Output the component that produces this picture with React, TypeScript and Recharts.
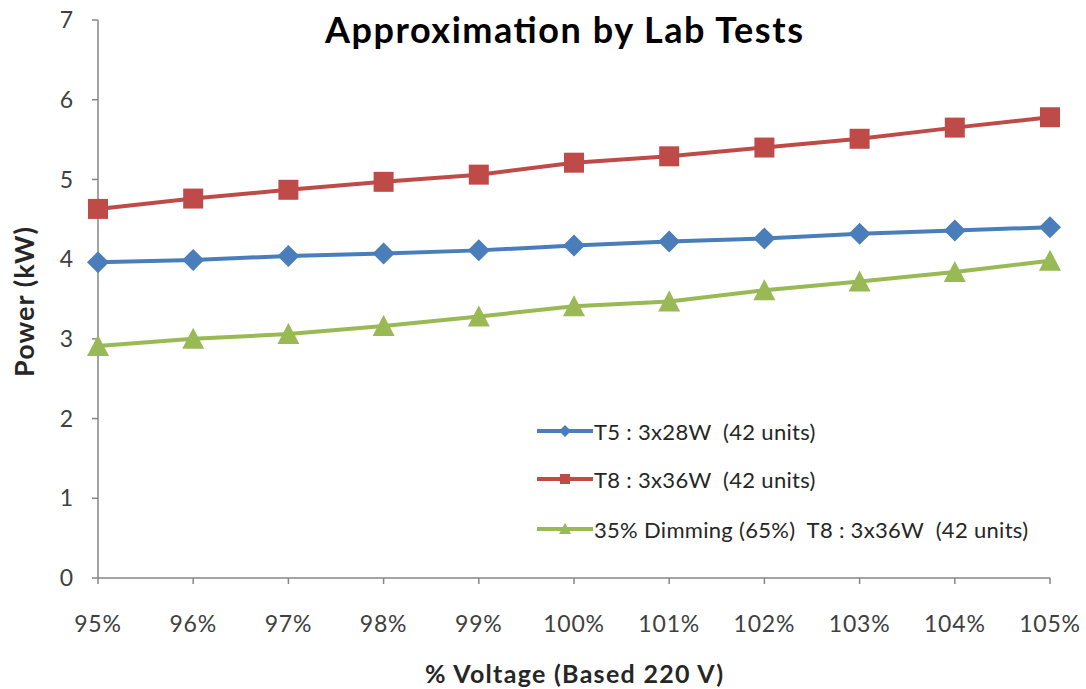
import React from 'react';
import { LineChart, Line, XAxis, YAxis, Label } from 'recharts';

// Readings taken off the lab-test chart
const voltages = ['95%', '96%', '97%', '98%', '99%', '100%', '101%', '102%', '103%', '104%', '105%'];
const t5Power = [3.96, 3.99, 4.04, 4.07, 4.11, 4.17, 4.22, 4.26, 4.32, 4.36, 4.40];
const t8Power = [4.63, 4.76, 4.87, 4.97, 5.06, 5.21, 5.29, 5.40, 5.51, 5.65, 5.78];
const dimmedPower = [2.91, 3.00, 3.06, 3.16, 3.28, 3.41, 3.47, 3.61, 3.72, 3.84, 3.98];
const powerTicks = [0, 1, 2, 3, 4, 5, 6, 7];

const seriesNames = [
    'T5 : 3x28W  (42 units)',
    'T8 : 3x36W  (42 units)',
    '35% Dimming (65%)  T8 : 3x36W  (42 units)',
];

const BLUE = '#4A7EBB';
const RED = '#BE4B48';
const GREEN = '#98B954';
const AXIS = '#868686';
const FONT = 'Lato, "Open Sans", sans-serif';

const data = voltages.map((v, i) => ({
    voltage: v,
    t5: t5Power[i],
    t8: t8Power[i],
    dim: dimmedPower[i],
}));

type Shape = 'diamond' | 'square' | 'triangle';

const markerPath = (shape: Shape, cx: number, cy: number, r: number) => {
    if (shape === 'diamond') return `M${cx},${cy - r - 1}L${cx + r + 1},${cy}L${cx},${cy + r + 1}L${cx - r - 1},${cy}Z`;
    if (shape === 'square') return `M${cx - r},${cy - r}H${cx + r}V${cy + r}H${cx - r}Z`;
    return `M${cx},${cy - r - 1}L${cx + r + 1},${cy + r}L${cx - r - 1},${cy + r}Z`;
};

const makeDot = (shape: Shape, color: string) => (props: any) => {
    const { cx, cy, index } = props;
    if (cx == null || cy == null) return <g key={`${shape}-${index}`} />;
    return <path key={`${shape}-${index}`} d={markerPath(shape, cx, cy, 10)} fill={color} />;
};

// legend sits inside the plot, lower right (row centers)
const legendItems: { name: string; color: string; shape: Shape; y: number }[] = [
    { name: seriesNames[0], color: BLUE, shape: 'diamond', y: 431 },
    { name: seriesNames[1], color: RED, shape: 'square', y: 479 },
    { name: seriesNames[2], color: GREEN, shape: 'triangle', y: 529 },
];

const ChartLegend = () => (
    <>
        {legendItems.map((item) => (
            <div
                key={item.name}
                style={{
                    position: 'absolute', left: 537, top: item.y - 16, height: 32,
                    display: 'flex', alignItems: 'center',
                }}
            >
                <svg width={56} height={20}>
                    <line x1={0} y1={10} x2={56} y2={10} stroke={item.color} strokeWidth={4} />
                    <path d={markerPath(item.shape, 28, 10, 5)} fill={item.color} />
                </svg>
                <span
                    style={{
                        fontFamily: FONT, fontSize: 22, letterSpacing: 0.3, color: '#262626',
                        whiteSpace: 'pre', marginLeft: 1,
                    }}
                >
                    {item.name}
                </span>
            </div>
        ))}
    </>
);

const tickStyle = { fontSize: 23, fill: '#404040', fontFamily: FONT, letterSpacing: 0.8 };

export default function App() {
    return (
        <div style={{ position: 'absolute', left: 0, top: 0, width: 1086, height: 689, background: '#fff' }}>
            <LineChart
                width={1086}
                height={689}
                data={data}
                margin={{ top: 20, right: 36, bottom: 51, left: 0 }}
            >
                <XAxis
                    dataKey="voltage"
                    interval={0}
                    height={60}
                    axisLine={{ stroke: AXIS, strokeWidth: 1.5 }}
                    tickLine={{ stroke: AXIS, strokeWidth: 1.5 }}
                    tickSize={6}
                    tickMargin={32}
                    tick={tickStyle}
                >
                    <Label
                        content={({ viewBox }: any) => (
                            <g>
                                <text
                                    x={564}
                                    y={43}
                                    textAnchor="middle"
                                    fontFamily={FONT}
                                    fontWeight={700}
                                    fontSize={36}
                                    textLength={478}
                                    lengthAdjust="spacing"
                                    fill="#000"
                                >
                                    Approximation by Lab Tests
                                </text>
                                <text
                                    x={viewBox.x + viewBox.width / 2}
                                    y={683}
                                    textAnchor="middle"
                                    fontFamily={FONT}
                                    fontWeight={700}
                                    fontSize={25}
                                    textLength={298}
                                    lengthAdjust="spacing"
                                    fill="#262626"
                                >
                                    % Voltage (Based 220 V)
                                </text>
                            </g>
                        )}
                    />
                </XAxis>
                <YAxis
                    domain={[0, 7]}
                    ticks={powerTicks}
                    interval={0}
                    width={98}
                    axisLine={{ stroke: AXIS, strokeWidth: 1.5 }}
                    tickLine={{ stroke: AXIS, strokeWidth: 1.5 }}
                    tickSize={6}
                    tickMargin={18}
                    tick={tickStyle}
                >
                    <Label
                        content={() => (
                            <text
                                x={25}
                                y={302}
                                dy={9}
                                transform="rotate(-90, 25, 302)"
                                textAnchor="middle"
                                fontFamily={FONT}
                                fontWeight={700}
                                fontSize={27}
                                textLength={150}
                                lengthAdjust="spacing"
                                fill="#262626"
                            >
                                Power (kW)
                            </text>
                        )}
                    />
                </YAxis>
                <Line
                    dataKey="t5"
                    name={seriesNames[0]}
                    stroke={BLUE}
                    strokeWidth={4}
                    dot={makeDot('diamond', BLUE)}
                    activeDot={false}
                    isAnimationActive={false}
                />
                <Line
                    dataKey="t8"
                    name={seriesNames[1]}
                    stroke={RED}
                    strokeWidth={4}
                    dot={makeDot('square', RED)}
                    activeDot={false}
                    isAnimationActive={false}
                />
                <Line
                    dataKey="dim"
                    name={seriesNames[2]}
                    stroke={GREEN}
                    strokeWidth={4}
                    dot={makeDot('triangle', GREEN)}
                    activeDot={false}
                    isAnimationActive={false}
                />
            </LineChart>
            <ChartLegend />
        </div>
    );
}
